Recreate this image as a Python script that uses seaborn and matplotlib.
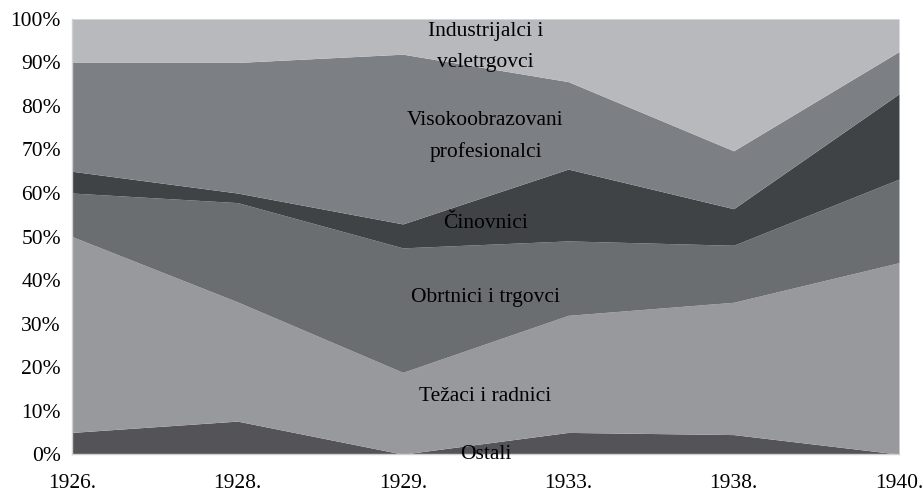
import numpy as np
import matplotlib
matplotlib.use("Agg")
import matplotlib.pyplot as plt
import seaborn as sns
import pandas as pd

years = ["1926.", "1928.", "1929.", "1933.", "1938.", "1940."]

# share of each group in %, bottom to top
ostali = [5.0, 7.6, 0.0, 5.0, 4.5, 0.0]
tezaci = [45.0, 27.4, 18.8, 26.9, 30.4, 44.0]
obrtnici = [10.0, 22.8, 28.6, 17.1, 13.1, 19.2]
cinovnici = [5.0, 2.2, 5.5, 16.5, 8.4, 19.6]
visoko = [25.0, 30.0, 39.0, 20.1, 13.3, 9.7]
industrijalci = [10.0, 10.0, 8.1, 14.4, 30.3, 7.5]

groups = ["Ostali", "Težaci i radnici", "Obrtnici i trgovci", "Činovnici",
          "Visokoobrazovani\nprofesionalci", "Industrijalci i\nveletrgovci"]
colors = ["#545458", "#98999d", "#6b6e71", "#404346", "#7c7f83", "#b8b9bd"]

df = pd.DataFrame([ostali, tezaci, obrtnici, cinovnici, visoko, industrijalci],
                  index=groups, columns=years)

sns.set_style("white")
plt.rcParams['font.family'] = ['Liberation Serif', 'DejaVu Serif']

fig, ax = plt.subplots(figsize=(9.23, 4.98), dpi=100)
fig.subplots_adjust(left=0.078, right=0.974, top=0.962, bottom=0.088)

x = np.arange(len(years))
ax.stackplot(x, df.values, colors=colors, linewidth=0)

# labels inside the areas
label_pos = {
    "Industrijalci i\nveletrgovci": 93.6,
    "Visokoobrazovani\nprofesionalci": 73.0,
    "Činovnici": 53.0,
    "Obrtnici i trgovci": 35.9,
    "Težaci i radnici": 13.3,
    "Ostali": -0.1,
}
for name, yv in label_pos.items():
    ax.text(2.5, yv, name, ha="center", va="center", fontsize=15.5,
            linespacing=1.85, color="black")

ax.set_xlim(0, len(years) - 1)
ax.set_ylim(0, 100)
ax.set_xticks(x)
ax.set_xticklabels(years)
ax.set_yticks(np.arange(0, 101, 10))
ax.set_yticklabels([f"{v}%" for v in range(0, 101, 10)])
ax.tick_params(axis="both", labelsize=15.5, colors="#d0d0d0", labelcolor="black",
               length=6, width=1)
ax.tick_params(axis="x", pad=8)
ax.tick_params(axis="y", length=5, pad=3)

for s in ["top", "right"]:
    ax.spines[s].set_visible(False)
for s in ["left", "bottom"]:
    ax.spines[s].set_color("#d0d0d0")
    ax.spines[s].set_linewidth(1)

fig.savefig("out.png", dpi=100)
